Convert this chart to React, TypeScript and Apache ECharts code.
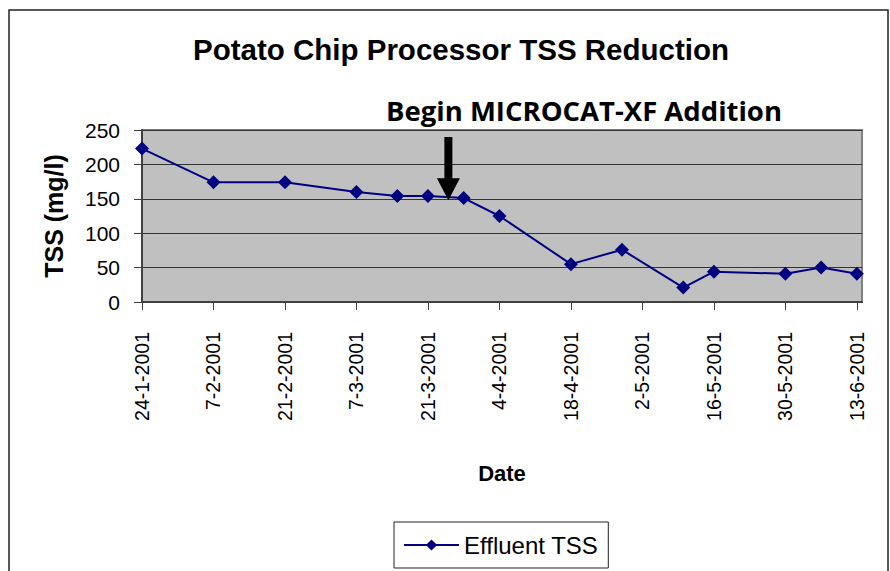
import React, { useEffect, useRef } from "react";
import * as echarts from "echarts";

// ---- data ----
const sampleDates = [
  "24-1-2001", "7-2-2001", "21-2-2001", "7-3-2001", "15-3-2001", "21-3-2001",
  "28-3-2001", "4-4-2001", "18-4-2001", "28-4-2001", "10-5-2001", "16-5-2001",
  "30-5-2001", "6-6-2001", "13-6-2001",
];
const effluentTSS = [223, 174, 174, 160, 154, 154, 151, 125, 55, 76, 21, 44, 41, 50, 41];
const yTicks = [0, 50, 100, 150, 200, 250];
const startDate = "24-1-2001";
const endDate = "14-6-2001";
const tickStepDays = 14;
const arrowDate = "25-3-2001";
const arrowTopValue = 240;
const arrowHeadValue = 180;
const arrowTipValue = 148;

const DAY = 86400000;
function parseDMY(s: string): number {
  const [d, m, y] = s.split("-").map(Number);
  return Date.UTC(y, m - 1, d);
}
const base = parseDMY(startDate);
const toDay = (s: string) => Math.round((parseDMY(s) - base) / DAY);
const fmtDay = (v: number) => {
  const dt = new Date(base + v * DAY);
  return `${dt.getUTCDate()}-${dt.getUTCMonth() + 1}-${dt.getUTCFullYear()}`;
};

const FONT = '"Liberation Sans", Arial, sans-serif';

export default function App() {
  const ref = useRef<HTMLDivElement>(null);
  useEffect(() => {
    if (!ref.current) return;
    const chart = echarts.init(ref.current, undefined, { renderer: "svg" });
    const seriesData = sampleDates.map((d, i) => [toDay(d), effluentTSS[i]]);
    chart.setOption({
      animation: false,
      backgroundColor: "#ffffff",
      title: {
        text: "Potato Chip Processor TSS Reduction",
        left: 456,
        top: 29,
        textAlign: "center",
        textStyle: { fontFamily: FONT, fontSize: 29.5, fontWeight: "bold", color: "#000" },
      },
      grid: {
        left: 142,
        right: 28,
        top: 130,
        bottom: 269,
        show: true,
        backgroundColor: "#c0c0c0",
        borderColor: "#808080",
        borderWidth: 2,
      },
      legend: {
        data: ["Effluent TSS"],
        left: 394,
        top: 522,
        orient: "horizontal",
        borderColor: "#222",
        borderWidth: 1,
        padding: [11, 10, 11, 9],
        itemWidth: 55,
        itemHeight: 14,
        textStyle: { fontFamily: FONT, fontSize: 24, color: "#000" },
      },
      xAxis: {
        type: "value",
        min: 0,
        max: toDay(endDate),
        interval: tickStepDays,
        name: "Date",
        nameLocation: "middle",
        nameGap: 160,
        nameTextStyle: { fontFamily: FONT, fontSize: 22, fontWeight: "bold", color: "#000" },
        axisLine: { show: true, onZero: false, lineStyle: { color: "#404040", width: 2 } },
        axisTick: { show: true, length: 8, lineStyle: { color: "#404040" } },
        splitLine: { show: false },
        axisLabel: {
          rotate: 90,
          margin: 30,
          showMaxLabel: false,
          fontFamily: FONT,
          fontSize: 19.5,
          color: "#000",
          formatter: (v: number) => (v % tickStepDays === 0 ? fmtDay(v) : ""),
        },
      },
      yAxis: {
        type: "value",
        min: 0,
        max: 250,
        interval: 50,
        name: "TSS (mg/l)",
        nameLocation: "middle",
        nameRotate: 90,
        nameGap: 76,
        nameTextStyle: { fontFamily: FONT, fontSize: 25, fontWeight: "bold", color: "#000" },
        axisLine: { show: true, lineStyle: { color: "#404040", width: 2 } },
        axisTick: { show: true, length: 8, lineStyle: { color: "#404040" } },
        splitLine: { show: true, lineStyle: { color: "#333", width: 1 } },
        axisLabel: {
          margin: 22,
          fontFamily: FONT,
          fontSize: 21,
          color: "#000",
          formatter: (v: number) => (yTicks.includes(v) ? String(v) : ""),
        },
      },
      series: [
        {
          name: "Effluent TSS",
          type: "line",
          data: seriesData,
          symbol: "diamond",
          symbolSize: 14,
          color: "#000080",
          itemStyle: { color: "#000080" },
          lineStyle: { color: "#000080", width: 2 },
        },
      ],
    });

    const ad = toDay(arrowDate);
    const [ax, ayTop] = chart.convertToPixel("grid", [ad, arrowTopValue]) as number[];
    const [, ayHead] = chart.convertToPixel("grid", [ad, arrowHeadValue]) as number[];
    const [, ayTip] = chart.convertToPixel("grid", [ad, arrowTipValue]) as number[];
    const sw = 4;
    const hw = 11.5;
    chart.setOption({
      graphic: [
        {
          type: "rect",
          shape: { x: 9, y: 10, width: 879, height: 620 },
          style: { fill: "none", stroke: "#222", lineWidth: 1.5 },
          silent: true,
        },
        {
          type: "polygon",
          shape: {
            points: [
              [ax - sw, ayTop],
              [ax + sw, ayTop],
              [ax + sw, ayHead],
              [ax + hw, ayHead],
              [ax, ayTip],
              [ax - hw, ayHead],
              [ax - sw, ayHead],
            ],
          },
          style: { fill: "#000" },
          z: 10,
        },
        {
          type: "text",
          x: 584,
          y: 110,
          style: {
            text: "Begin MICROCAT-XF Addition",
            fontFamily: '"Open Sans", sans-serif',
            fontWeight: "bold",
            fontSize: 27.5,
            fill: "#000",
            align: "center",
            verticalAlign: "middle",
          },
          z: 10,
        },
      ],
    });
    return () => chart.dispose();
  }, []);
  return (
    <div
      ref={ref}
      style={{ position: "fixed", left: 0, top: 0, width: 890, height: 571 }}
    />
  );
}
